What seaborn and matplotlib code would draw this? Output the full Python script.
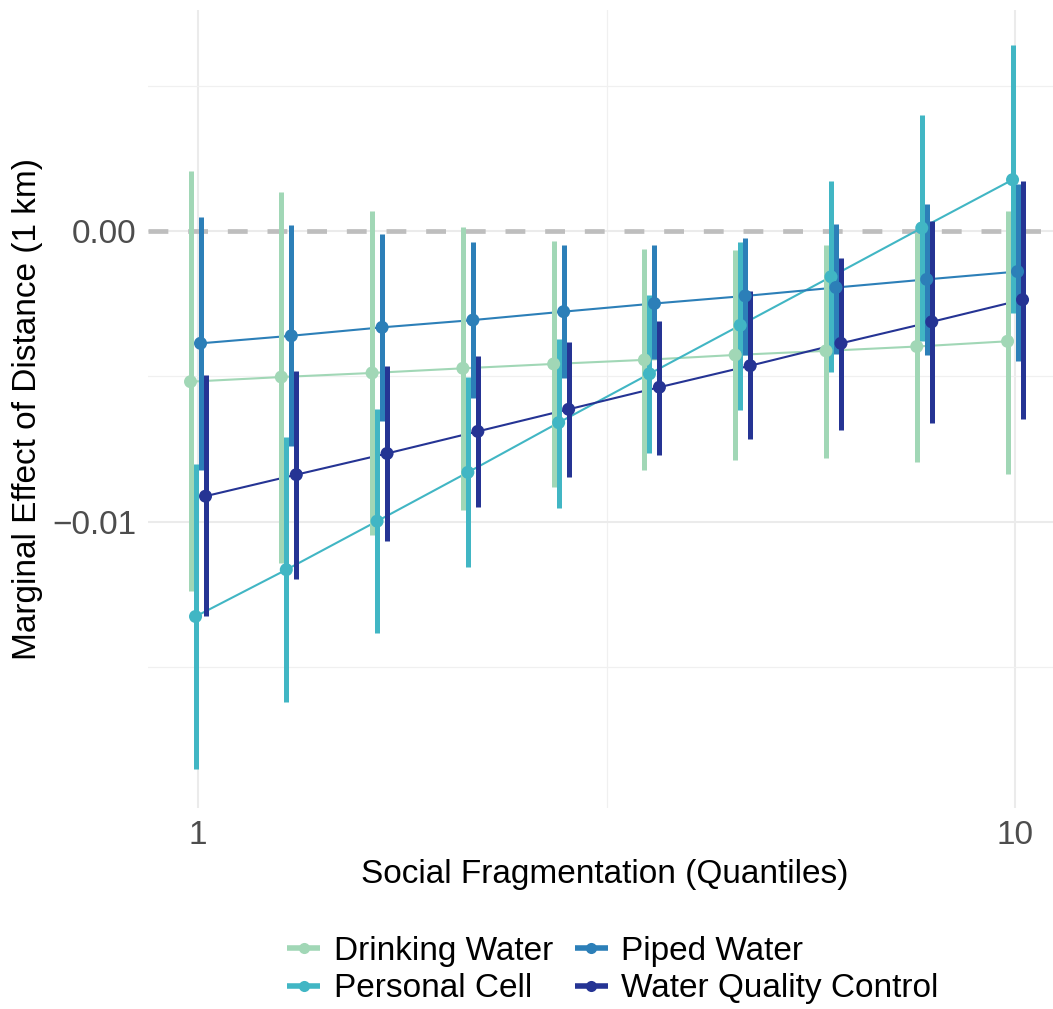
import matplotlib
matplotlib.use("Agg")
import numpy as np
import pandas as pd
import matplotlib.pyplot as plt
import seaborn as sns
from matplotlib.lines import Line2D
from matplotlib.ticker import FixedLocator

# Marginal effect of distance (1 km) by social-fragmentation quantile
quantiles = list(range(1, 11))
outcomes = ["Drinking Water", "Personal Cell", "Piped Water", "Water Quality Control"]
colors = ["#a1d7b6", "#41b6c4", "#2c7fb8", "#253494"]

drinking_est = [-0.00518, -0.00502, -0.00488, -0.00472, -0.00457, -0.00443, -0.00426, -0.00412, -0.00397, -0.00379]
drinking_lo = [-0.01238, -0.01143, -0.01047, -0.00961, -0.00881, -0.00821, -0.00787, -0.00781, -0.00796, -0.00835]
drinking_hi = [0.00206, 0.00135, 0.00070, 0.00015, -0.00033, -0.00063, -0.00065, -0.00048, -0.00005, 0.00070]

cell_est = [-0.01326, -0.01165, -0.00998, -0.00830, -0.00659, -0.00491, -0.00324, -0.00157, 0.00011, 0.00177]
cell_lo = [-0.01851, -0.01621, -0.01384, -0.01157, -0.00952, -0.00764, -0.00615, -0.00483, -0.00377, -0.00282]
cell_hi = [-0.00801, -0.00709, -0.00611, -0.00501, -0.00372, -0.00220, -0.00037, 0.00172, 0.00399, 0.00640]

piped_est = [-0.00386, -0.00360, -0.00331, -0.00306, -0.00277, -0.00249, -0.00223, -0.00194, -0.00166, -0.00139]
piped_lo = [-0.00823, -0.00738, -0.00654, -0.00574, -0.00506, -0.00441, -0.00426, -0.00423, -0.00425, -0.00447]
piped_hi = [0.00050, 0.00021, -0.00010, -0.00038, -0.00048, -0.00046, -0.00023, 0.00026, 0.00095, 0.00163]

wqc_est = [-0.00912, -0.00838, -0.00765, -0.00689, -0.00613, -0.00537, -0.00463, -0.00386, -0.00312, -0.00236]
wqc_lo = [-0.01326, -0.01198, -0.01065, -0.00949, -0.00847, -0.00770, -0.00716, -0.00684, -0.00660, -0.00646]
wqc_hi = [-0.00496, -0.00482, -0.00464, -0.00431, -0.00380, -0.00308, -0.00205, -0.00094, 0.00036, 0.00171]

x_ticks = [1, 10]
x_tick_labels = ["1", "10"]
y_ticks = [-0.01, 0.0]
y_tick_labels = ["\u22120.01", "0.00"]

series = {
    "Drinking Water": (drinking_est, drinking_lo, drinking_hi),
    "Personal Cell": (cell_est, cell_lo, cell_hi),
    "Piped Water": (piped_est, piped_lo, piped_hi),
    "Water Quality Control": (wqc_est, wqc_lo, wqc_hi),
}

# dodge the four outcomes around each quantile
dodge = 0.055
rows = []
for i, name in enumerate(outcomes):
    est, lo, hi = series[name]
    for q, e, l, h in zip(quantiles, est, lo, hi):
        rows.append({"outcome": name, "quantile": q,
                     "xpos": q + (i - 1.5) * dodge,
                     "est": e, "lo": l, "hi": h})
df = pd.DataFrame(rows)
palette = dict(zip(outcomes, colors))

sns.set_theme(style="white")
plt.rcParams["font.family"] = ["Liberation Sans", "DejaVu Sans"]

fig = plt.figure(figsize=(10.53, 10.09), dpi=100)
ax = fig.add_axes([148 / 1053, 1 - 808 / 1009, 905 / 1053, 798 / 1009])

ax.set_xlim(0.449, 0.449 + 905 / 90.78)
ax.set_ylim(-0.01985, 0.00761)

# grid
ax.xaxis.set_major_locator(FixedLocator(x_ticks))
ax.xaxis.set_minor_locator(FixedLocator([5.5]))
ax.yaxis.set_major_locator(FixedLocator(y_ticks))
ax.yaxis.set_minor_locator(FixedLocator([-0.015, -0.005, 0.005]))
ax.grid(which="major", color="#ebebeb", linewidth=1.5)
ax.grid(which="minor", color="#f0f0f0", linewidth=0.9)
ax.set_axisbelow(True)

# reference line at zero
ax.axhline(0, color="#bebebe", linewidth=3.4, linestyle=(0, (4.2, 4.2)), zorder=1.5)

# connecting lines
sns.lineplot(data=df, x="xpos", y="est", hue="outcome", hue_order=outcomes,
             palette=palette, linewidth=1.5, legend=False, ax=ax, zorder=2,
             estimator=None, sort=True)

# interval bars
for name in outcomes:
    sub = df[df["outcome"] == name]
    ax.vlines(sub["xpos"], sub["lo"], sub["hi"], color=palette[name],
              linewidth=3.6, capstyle="butt", zorder=3)

# point estimates
sns.scatterplot(data=df, x="xpos", y="est", hue="outcome", hue_order=outcomes,
                palette=palette, s=88, linewidth=0, legend=False, ax=ax, zorder=4)

for s in ax.spines.values():
    s.set_visible(False)

ax.set_xticklabels(x_tick_labels)
ax.set_yticklabels(y_tick_labels)
ax.tick_params(axis="both", which="both", length=0, labelsize=24, labelcolor="#4d4d4d")
ax.tick_params(axis="y", pad=8.5)
ax.tick_params(axis="x", pad=9)

ax.set_xlabel("Social Fragmentation (Quantiles)", fontsize=24, color="black")
ax.set_ylabel("Marginal Effect of Distance (1 km)", fontsize=24, color="black")
ax.xaxis.label.set_va("center")
ax.yaxis.label.set_va("center")
ax.xaxis.set_label_coords(0.505, (808 - 874) / 798)
ax.yaxis.set_label_coords((28 - 148) / 905, 0.5)

handles = [Line2D([0], [0], color=c, linewidth=4, marker="o", markersize=8,
                  markeredgewidth=0, solid_capstyle="butt") for c in colors]
fig.legend(handles, outcomes, loc="center", bbox_to_anchor=(0.582, 0.0387),
           ncol=2, frameon=False, fontsize=24, handlelength=1.0,
           handletextpad=0.4, columnspacing=0.65, labelspacing=0.2,
           borderpad=0, labelcolor="black")

fig.savefig("out.png", dpi=100, facecolor="white")
